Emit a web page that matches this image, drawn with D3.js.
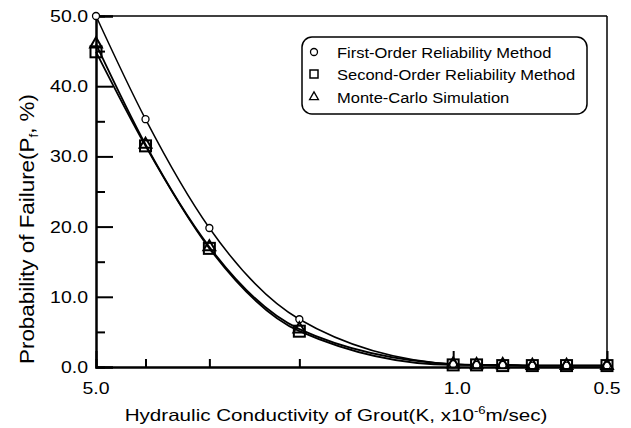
<!DOCTYPE html>
<html><head><meta charset="utf-8">
<script src="https://cdn.jsdelivr.net/npm/d3@7"></script>
<style>body{margin:0;background:#fff}svg{display:block}text{font-family:"Liberation Sans",Arial,sans-serif;fill:#000}</style>
</head><body>
<script>
const conductivity = [5.0, 4.0, 3.0, 2.0, 1.0, 0.9, 0.8, 0.7, 0.6, 0.5];
const formValues  = [50.0, 35.3, 19.8, 6.8, 0.4, 0.3, 0.3, 0.2, 0.2, 0.2];
const sormValues  = [44.9, 31.5, 16.9, 5.1, 0.3, 0.3, 0.2, 0.2, 0.2, 0.2];
const mcsValues   = [46.0, 31.7, 17.1, 5.4, 0.4, 0.3, 0.3, 0.2, 0.2, 0.2];
const seriesNames = ["First-Order Reliability Method", "Second-Order Reliability Method", "Monte-Carlo Simulation"];
const yMajorTicks = [0, 10, 20, 30, 40, 50];
const yMinorTicks = [5, 15, 25, 35, 45];
const xMinorTicks = [4.0, 3.0, 2.0];
const xLabelTicks = [5.0, 1.0, 0.5];

const W = 631, H = 428;
const m = {left: 96, right: 607, top: 16, bottom: 367};
const svg = d3.select("body").append("svg").attr("width", W).attr("height", H);

const x = d3.scaleLog().domain([5.0, 0.5]).range([m.left, m.right]);
const y = d3.scaleLinear().domain([0, 50]).range([m.bottom, m.top]);

// frame top/right
svg.append("line").attr("x1", m.left).attr("x2", m.right).attr("y1", m.top).attr("y2", m.top).attr("stroke", "#000").attr("stroke-width", 1.5);
svg.append("line").attr("x1", m.right).attr("x2", m.right).attr("y1", m.top).attr("y2", m.bottom).attr("stroke", "#000").attr("stroke-width", 1.5);

// left axis
const yAxis = svg.append("g").attr("transform", `translate(${m.left},0)`)
  .call(d3.axisRight(y).tickValues(yMajorTicks).tickSize(17).tickFormat(""));
const yMinor = svg.append("g").attr("transform", `translate(${m.left},0)`)
  .call(d3.axisRight(y).tickValues(yMinorTicks).tickSize(9).tickFormat(""));
[yAxis, yMinor].forEach(g => { g.select(".domain").attr("stroke-width", 2); g.selectAll(".tick line").attr("stroke-width", 2); });
svg.append("g").selectAll("text").data(yMajorTicks).join("text")
  .attr("transform", d => `translate(${m.left - 8},${y(d) + 6}) scale(1.18,1)`)
  .attr("text-anchor", "end").style("font-size", "16.5px").text(d => d.toFixed(1));

// bottom axis
const xAxis = svg.append("g").attr("transform", `translate(0,${m.bottom})`)
  .call(d3.axisTop(x).tickValues(xMinorTicks).tickSize(8).tickFormat(""));
const xMajor = svg.append("g").attr("transform", `translate(0,${m.bottom})`)
  .call(d3.axisTop(x).tickValues([1.0]).tickSize(16).tickFormat(""));
[xAxis, xMajor].forEach(g => { g.select(".domain").attr("stroke-width", 2); g.selectAll(".tick line").attr("stroke-width", 2); });
svg.append("g").selectAll("text").data(xLabelTicks).join("text")
  .attr("transform", d => `translate(${x(d) + (d === 1.0 ? 4 : 0)},${m.bottom + 27}) scale(1.18,1)`)
  .attr("text-anchor", "middle").style("font-size", "16.5px").text(d => d.toFixed(1));

// axis titles
const xt = svg.append("text").attr("transform", `translate(336,421) scale(1.25,1)`)
  .attr("text-anchor", "middle").style("font-size", "16.5px");
xt.append("tspan").text("Hydraulic Conductivity of Grout(K, x10");
xt.append("tspan").attr("dy", -7).style("font-size", "10.5px").text("-6");
xt.append("tspan").attr("dy", 7).text("m/sec)");

const yt = svg.append("text").attr("transform", `translate(34,229) rotate(-90) scale(1.12,1)`)
  .attr("text-anchor", "middle").style("font-size", "20px");
yt.append("tspan").text("Probability of Failure(P");
yt.append("tspan").attr("dy", 4).style("font-size", "12px").text("f");
yt.append("tspan").attr("dy", -4).text(", %)");

// lines
const mk = vals => conductivity.map((k, i) => [k, vals[i]]);
const line = d3.line().x(d => x(d[0])).y(d => y(d[1])).curve(d3.curveMonotoneX);
const series = [mk(formValues), mk(sormValues), mk(mcsValues)];
series.forEach((s, i) => svg.append("path").attr("d", line(s)).attr("fill", "none").attr("stroke", "#000").attr("stroke-width", i === 0 ? 1.5 : 1.8));

// markers
svg.append("g").selectAll("circle").data(series[0]).join("circle")
  .attr("cx", d => x(d[0])).attr("cy", d => y(d[1])).attr("r", 3.5)
  .attr("fill", "#fff").attr("stroke", "#000").attr("stroke-width", 1.3);
svg.append("g").selectAll("rect").data(series[1]).join("rect")
  .attr("x", d => x(d[0]) - 5.5).attr("y", d => y(d[1]) - 5.5).attr("width", 11).attr("height", 11)
  .attr("fill", "none").attr("stroke", "#000").attr("stroke-width", 2);
const tri = d3.symbol().type(d3.symbolTriangle).size(60);
svg.append("g").selectAll("path").data(series[2]).join("path")
  .attr("transform", d => `translate(${x(d[0])},${y(d[1])})`).attr("d", tri)
  .attr("fill", "none").attr("stroke", "#000").attr("stroke-width", 2);

// legend
const lg = svg.append("g");
lg.append("rect").attr("x", 302).attr("y", 37).attr("width", 285).attr("height", 77).attr("rx", 10)
  .attr("fill", "#fff").attr("stroke", "#000").attr("stroke-width", 1.5);
const rows = [52, 74, 97];
lg.append("circle").attr("cx", 314).attr("cy", rows[0]).attr("r", 3.5).attr("fill", "none").attr("stroke", "#000").attr("stroke-width", 1.3);
lg.append("rect").attr("x", 310).attr("y", rows[1] - 4).attr("width", 8).attr("height", 8).attr("fill", "none").attr("stroke", "#000").attr("stroke-width", 1.5);
lg.append("path").attr("transform", `translate(314,${rows[2]})`).attr("d", d3.symbol().type(d3.symbolTriangle).size(34))
  .attr("fill", "none").attr("stroke", "#000").attr("stroke-width", 1.3);
lg.selectAll("text.lt").data(seriesNames).join("text").attr("class", "lt")
  .attr("transform", (d, i) => `translate(337,${rows[i] + 5.5}) scale(1.1,1)`)
  .style("font-size", "15px").text(d => d);
</script>
</body></html>
